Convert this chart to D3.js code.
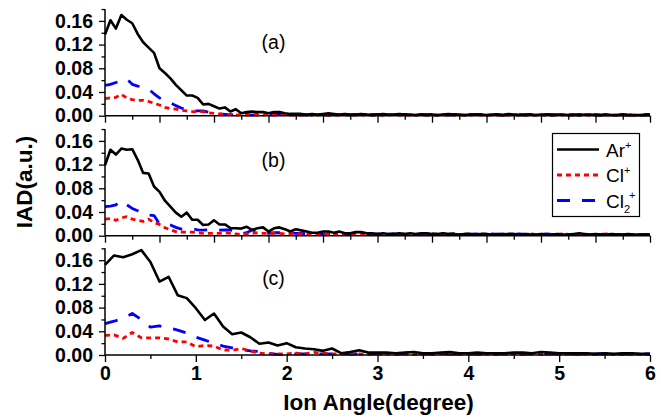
<!DOCTYPE html>
<html><head><meta charset="utf-8">
<script src="https://cdn.jsdelivr.net/npm/d3@7"></script>
<style>body{margin:0;background:#fff}svg{display:block}text{font-family:"Liberation Sans",Arial,sans-serif}</style>
</head><body><svg id="c" width="661" height="419"></svg>
<script>
// x sampling: panels (a),(b) every 0.06 deg; panel (c) every 0.1 deg
const xStepAB = 0.06, xStepC = 0.1;
const arA = [0.137,0.161,0.147,0.170,0.162,0.156,0.138,0.124,0.115,0.106,0.080,0.072,0.063,0.052,0.043,0.034,0.034,0.030,0.019,0.020,0.016,0.012,0.014,0.007,0.011,0.004,0.006,0.007,0.006,0.006,0.004,0.006,0.006,0.004,0.003,0.003,0.003,0.002,0.003,0.002,0.003,0.004,0.003,0.002,0.003,0.002,0.002,0.003,0.002,0.001,0.002,0.003,0.002,0.002,0.003,0.002,0.002,0.001,0.002,0.002,0.002,0.001,0.002,0.003,0.002,0.002,0.001,0.002,0.002,0.002,0.001,0.002,0.002,0.001,0.003,0.002,0.001,0.002,0.002,0.001,0.002,0.002,0.001,0.002,0.002,0.001,0.002,0.001,0.002,0.002,0.001,0.001,0.002,0.001,0.001,0.002,0.001,0.001,0.001,0.001,0.001];
const clA = [0.029,0.030,0.031,0.036,0.030,0.027,0.026,0.026,0.024,0.021,0.018,0.014,0.012,0.011,0.009,0.008,0.007,0.007,0.007,0.005,0.004,0.003,0.002,0.002,0.001,0.002,0.001,0.002,0.001,0.001,0.002,0.001,0.001,0.002,0.001,0.001,0.001,0.002,0.001,0.001,0.002,0.001,0.001,0.001,0.002,0.001,0.001,0.001,0.002,0.001,0.001,0.001,0.001,0.002,0.001,0.001,0.001,0.001,0.002,0.001,0.001,0.001,0.002,0.001,0.001,0.001,0.001,0.001,0.002,0.001,0.001,0.001,0.001,0.001,0.001,0.002,0.001,0.001,0.001,0.001,0.001,0.001,0.001,0.002,0.001,0.001,0.001,0.001,0.001,0.001,0.001,0.001,0.001,0.001,0.001,0.001,0.001,0.001,0.001,0.001,0.001];
const cl2A = [0.051,0.053,0.056,0.059,0.062,0.053,0.050,0.048,0.045,0.037,0.030,0.026,0.022,0.017,0.013,0.010,0.008,0.008,0.008,0.006,0.004,0.003,0.002,0.002,0.001,0.002,0.002,0.001,0.002,0.002,0.001,0.002,0.002,0.002,0.001,0.002,0.002,0.001,0.002,0.002,0.002,0.001,0.002,0.002,0.002,0.001,0.002,0.002,0.001,0.002,0.002,0.002,0.001,0.002,0.002,0.002,0.001,0.002,0.002,0.001,0.002,0.002,0.002,0.001,0.002,0.002,0.001,0.002,0.002,0.002,0.001,0.002,0.002,0.001,0.002,0.002,0.002,0.001,0.002,0.002,0.001,0.002,0.002,0.001,0.002,0.002,0.001,0.002,0.002,0.001,0.002,0.001,0.002,0.002,0.001,0.002,0.001,0.002,0.001,0.002,0.002];
const arB = [0.119,0.145,0.137,0.147,0.145,0.146,0.128,0.106,0.105,0.083,0.074,0.059,0.049,0.039,0.032,0.039,0.027,0.027,0.018,0.019,0.026,0.019,0.019,0.013,0.0125,0.012,0.015,0.010,0.0125,0.014,0.007,0.0125,0.014,0.011,0.007,0.011,0.009,0.007,0.005,0.005,0.007,0.007,0.005,0.007,0.004,0.004,0.006,0.006,0.004,0.004,0.003,0.004,0.003,0.003,0.004,0.003,0.004,0.003,0.004,0.004,0.003,0.003,0.004,0.003,0.003,0.002,0.003,0.003,0.002,0.003,0.003,0.002,0.003,0.002,0.003,0.003,0.002,0.003,0.002,0.002,0.003,0.002,0.002,0.003,0.002,0.002,0.003,0.004,0.003,0.002,0.003,0.002,0.002,0.003,0.002,0.002,0.003,0.002,0.002,0.002,0.002];
const clB = [0.028,0.029,0.026,0.030,0.032,0.028,0.026,0.024,0.028,0.022,0.019,0.0135,0.010,0.007,0.006,0.006,0.006,0.005,0.004,0.004,0.004,0.004,0.005,0.004,0.003,0.002,0.003,0.004,0.005,0.004,0.004,0.004,0.004,0.003,0.004,0.003,0.003,0.002,0.003,0.002,0.002,0.003,0.002,0.003,0.002,0.002,0.003,0.002,0.002,0.003,0.002,0.002,0.002,0.003,0.002,0.002,0.003,0.002,0.002,0.002,0.003,0.002,0.002,0.002,0.003,0.002,0.002,0.002,0.003,0.002,0.002,0.002,0.002,0.003,0.002,0.002,0.002,0.002,0.003,0.002,0.002,0.002,0.002,0.002,0.003,0.002,0.002,0.002,0.002,0.002,0.002,0.002,0.003,0.002,0.002,0.002,0.002,0.002,0.002,0.002,0.002];
const cl2B = [0.049,0.050,0.052,0.059,0.052,0.046,0.042,0.037,0.035,0.034,0.020,0.019,0.018,0.014,0.011,0.0115,0.0115,0.010,0.0095,0.010,0.010,0.0095,0.0096,0.0096,0.006,0.003,0.005,0.0096,0.006,0.004,0.004,0.005,0.005,0.005,0.005,0.004,0.004,0.003,0.003,0.003,0.003,0.003,0.003,0.002,0.003,0.003,0.002,0.003,0.003,0.002,0.003,0.002,0.003,0.003,0.002,0.003,0.002,0.003,0.002,0.003,0.003,0.002,0.003,0.002,0.003,0.002,0.003,0.002,0.003,0.002,0.002,0.003,0.002,0.003,0.002,0.002,0.003,0.002,0.003,0.002,0.002,0.003,0.002,0.002,0.003,0.002,0.002,0.002,0.003,0.002,0.002,0.002,0.003,0.002,0.002,0.002,0.002,0.002,0.002,0.002,0.002];
const arC = [0.152,0.168,0.165,0.170,0.177,0.157,0.124,0.132,0.101,0.096,0.079,0.059,0.070,0.048,0.035,0.038,0.030,0.019,0.021,0.016,0.020,0.013,0.011,0.0096,0.007,0.011,0.003,0.005,0.008,0.004,0.004,0.004,0.003,0.004,0.005,0.003,0.003,0.004,0.005,0.003,0.003,0.004,0.003,0.003,0.003,0.004,0.004,0.003,0.005,0.004,0.003,0.003,0.003,0.003,0.002,0.003,0.002,0.003,0.003,0.002,0.002];
const clC = [0.033,0.034,0.028,0.038,0.029,0.029,0.029,0.027,0.022,0.022,0.014,0.016,0.015,0.0085,0.008,0.011,0.007,0.003,0.002,0.002,0.002,0.003,0.002,0.0045,0.003,0.002,0.002,0.001,0.002,0.001,0.002,0.002,0.001,0.002,0.001,0.002,0.001,0.002,0.002,0.001,0.002,0.001,0.002,0.001,0.002,0.002,0.001,0.002,0.001,0.002,0.001,0.002,0.001,0.002,0.001,0.002,0.001,0.001,0.002,0.001,0.001];
const cl2C = [0.053,0.057,0.062,0.070,0.060,0.047,0.049,0.046,0.042,0.037,0.030,0.025,0.020,0.015,0.012,0.009,0.007,0.006,0.003,0.001,0.001,0.002,0.002,0.002,0.002,0.002,0.002,0.002,0.002,0.002,0.002,0.002,0.002,0.002,0.002,0.002,0.002,0.002,0.002,0.002,0.002,0.002,0.002,0.002,0.002,0.002,0.002,0.002,0.002,0.002,0.002,0.002,0.002,0.002,0.002,0.002,0.002,0.002,0.002,0.002,0.002];
const yTicks = [0.00,0.04,0.08,0.12,0.16];
const xTicksC = [0,1,2,3,4,5,6];
const panelLabels = ["(a)","(b)","(c)"];
const seriesNames = ["Ar","Cl","Cl2"];

const svg = d3.select("#c");
const x = d3.scaleLinear().domain([0,6]).range([105,650]);
const colors = ["#000","#ff0000","#0000ff"];
const dashes = [null,"5,4","13,12"];
const widths = [2.6,2.8,2.8];

const panels = [
  {data:[arA,clA,cl2A], step:xStepAB, y0:115.7, lab:panelLabels[0], ly:49, c:false},
  {data:[arB,clB,cl2B], step:xStepAB, y0:235.7, lab:panelLabels[1], ly:166.5, c:false},
  {data:[arC,clC,cl2C], step:xStepC, y0:355, lab:panelLabels[2], ly:284.5, c:true}
];

panels.forEach(p=>{
  const y = d3.scaleLinear().domain([0,0.18]).range([p.y0, p.y0-106.65]);
  const g = svg.append("g");
  [2,1,0].forEach(si=>{
    const arr = p.data[si];
    const line = d3.line().x((d,i)=>x(i*p.step)).y(d=>y(d));
    g.append("path").datum(arr).attr("d",line).attr("fill","none")
      .attr("stroke",colors[si]).attr("stroke-width",widths[si])
      .attr("stroke-dasharray",dashes[si]).attr("stroke-linejoin","round");
  });
  const ya = d3.axisLeft(y).tickValues(yTicks).tickFormat(d3.format(".2f")).tickSize(6).tickPadding(6);
  const yg = svg.append("g").attr("transform","translate(105,0)").call(ya);
  yg.select(".domain").attr("stroke-width",1.5).attr("d",`M0,${p.y0}V${p.y0-106.65}`);
  yg.selectAll(".tick line").attr("stroke-width",1.3);
  yg.selectAll("text").attr("font-size",19.5).attr("font-weight","bold").attr("fill","#000").attr("font-family","Liberation Sans, Arial");
  const yMinor = d3.axisLeft(y).tickValues([0.02,0.06,0.10,0.14,0.18]).tickSize(3.5).tickFormat("");
  const ym = svg.append("g").attr("transform","translate(105,0)").call(yMinor);
  ym.select(".domain").remove();
  ym.selectAll(".tick line").attr("stroke-width",1.3);
  const major = p.c ? xTicksC : d3.range(0,11).map(i=>+(i*0.6).toFixed(1));
  const minor = p.c ? [0.5,1.5,2.5,3.5,4.5,5.5] : d3.range(0,10).map(i=>+(0.3+i*0.6).toFixed(1));
  const xa = d3.axisBottom(x).tickValues(major).tickSize(7).tickPadding(4)
     .tickFormat(p.c ? d3.format("d") : "");
  const xg = svg.append("g").attr("transform",`translate(0,${p.y0})`).call(xa);
  xg.select(".domain").attr("stroke-width",1.6).attr("d","M105,0H650");
  xg.selectAll(".tick line").attr("stroke-width",1.3);
  xg.selectAll("text").attr("font-size",19.5).attr("font-weight","bold").attr("fill","#000").attr("font-family","Liberation Sans, Arial");
  const xm = svg.append("g").attr("transform",`translate(0,${p.y0})`)
     .call(d3.axisBottom(x).tickValues(minor).tickSize(4).tickFormat(""));
  xm.select(".domain").remove();
  xm.selectAll(".tick line").attr("stroke-width",1.3);
  svg.append("text").attr("x",273.5).attr("y",p.ly).attr("text-anchor","middle")
    .attr("font-size",19.5).text(p.lab);
});

svg.append("text").attr("x",378.5).attr("y",410).attr("text-anchor","middle")
  .attr("font-size",22.5).attr("font-weight","bold").text("Ion Angle(degree)");
svg.append("text").attr("transform","translate(32,182) rotate(-90)").attr("text-anchor","middle")
  .attr("font-size",22.5).attr("font-weight","bold").text("IAD(a.u.)");

const lg = svg.append("g");
lg.append("rect").attr("x",552.5).attr("y",133.5).attr("width",87).attr("height",83)
  .attr("fill","#fff").attr("stroke","#000").attr("stroke-width",1.2);
const rowsY = [149.5,175,200.5];
seriesNames.forEach((n,i)=>{
  lg.append("line").attr("x1",557).attr("x2",599).attr("y1",rowsY[i]).attr("y2",rowsY[i])
    .attr("stroke",colors[i]).attr("stroke-width",widths[i]).attr("stroke-dasharray",dashes[i]);
  const t = lg.append("text").attr("x",606).attr("y",rowsY[i]+7).attr("font-size",19);
  if(n==="Cl2"){
    t.append("tspan").text("Cl");
    t.append("tspan").attr("font-size",11).attr("dy",5).text("2");
    t.append("tspan").attr("font-size",11).attr("dy",-14).attr("dx",-1).text("+");
  } else {
    t.append("tspan").text(n);
    t.append("tspan").attr("font-size",11).attr("dy",-8).text("+");
  }
});
</script></body></html>
